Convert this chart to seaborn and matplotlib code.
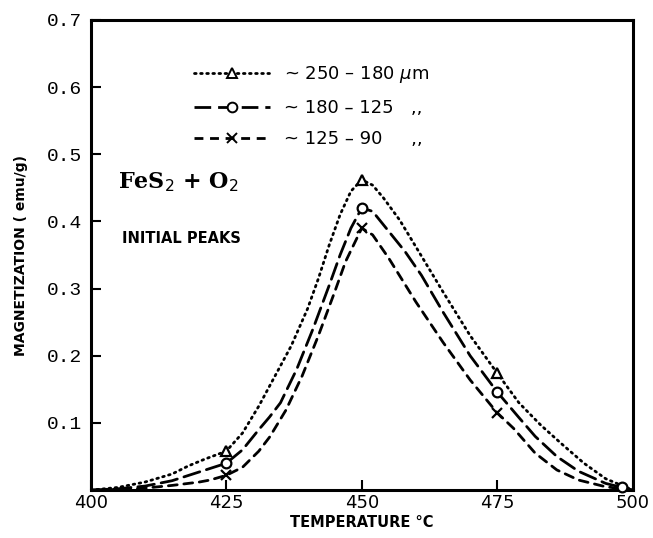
#!/usr/bin/env python3
"""FeS2 + O2 initial magnetization peaks vs temperature, three particle sizes."""
import matplotlib
matplotlib.use("Agg")
import matplotlib.pyplot as plt
from matplotlib.lines import Line2D
import numpy as np
import pandas as pd
import seaborn as sns

# === Data ===
size_labels = ["250-180", "180-125", "125-90"]

temp_a = [400, 405, 410, 415, 418, 421, 425, 428, 431, 434, 437, 440, 442, 444, 446,
          448, 450, 452, 454, 457, 460, 465, 470, 475, 479, 483, 487, 491, 495, 500]
mag_a = [0.0, 0.004, 0.012, 0.024, 0.036, 0.046, 0.058, 0.085, 0.125, 0.17, 0.215, 0.27,
         0.315, 0.365, 0.41, 0.445, 0.462, 0.454, 0.435, 0.402, 0.362, 0.295, 0.23, 0.174,
         0.13, 0.097, 0.068, 0.04, 0.017, 0.0]

temp_b = [400, 405, 410, 415, 420, 425, 428, 431, 433, 435, 438, 441, 444, 446, 448,
          450, 452, 455, 458, 461, 465, 470, 475, 479, 482, 486, 490, 495, 500]
mag_b = [0.0, 0.002, 0.006, 0.014, 0.027, 0.04, 0.06, 0.09, 0.109, 0.13, 0.18, 0.24,
         0.305, 0.35, 0.39, 0.42, 0.415, 0.385, 0.355, 0.32, 0.265, 0.20, 0.146, 0.108,
         0.08, 0.05, 0.028, 0.01, 0.0]

temp_c = [400, 405, 410, 415, 420, 422, 425, 428, 431, 433, 436, 439, 442, 445, 447,
          450, 452, 455, 460, 465, 470, 475, 478, 482, 486, 490, 495, 500]
mag_c = [0.0, 0.001, 0.003, 0.007, 0.012, 0.015, 0.022, 0.034, 0.058, 0.079, 0.119, 0.17,
         0.23, 0.295, 0.34, 0.39, 0.38, 0.345, 0.28, 0.22, 0.164, 0.115, 0.092, 0.055,
         0.03, 0.015, 0.005, 0.0]

# measured points carrying symbols
mark_temp_a = [425, 450, 475]
mark_mag_a = [0.058, 0.462, 0.174]
mark_temp_b = [425, 450, 475, 498]
mark_mag_b = [0.04, 0.42, 0.146, 0.004]
mark_temp_c = [425, 450, 475]
mark_mag_c = [0.022, 0.39, 0.115]

x_ticks = [400, 425, 450, 475, 500]
y_ticks = [0.1, 0.2, 0.3, 0.4, 0.5, 0.6, 0.7]

# === Style ===
sns.set_style("ticks")
plt.rcParams["font.family"] = ["DejaVu Sans"]
plt.rcParams.update({
    "text.color": "black",
    "axes.labelcolor": "black",
    "xtick.color": "black",
    "ytick.color": "black",
    "axes.edgecolor": "black",
})

df = pd.concat([
    pd.DataFrame({"temp": temp_a, "mag": mag_a, "size": size_labels[0]}),
    pd.DataFrame({"temp": temp_b, "mag": mag_b, "size": size_labels[1]}),
    pd.DataFrame({"temp": temp_c, "mag": mag_c, "size": size_labels[2]}),
], ignore_index=True)

dash_map = {size_labels[0]: (0.6, 1.6), size_labels[1]: (6, 2.5), size_labels[2]: (3.2, 2.4)}
marker_map = {size_labels[0]: "^", size_labels[1]: "o", size_labels[2]: "x"}

fig = plt.figure(figsize=(6.53, 5.38), dpi=100)
ax = fig.add_axes([0.139, 0.089, 0.830, 0.874])

sns.lineplot(data=df, x="temp", y="mag", style="size", dashes=dash_map,
             color="black", linewidth=2.0, legend=False, ax=ax, sort=False)
for line in ax.get_lines():
    line.set_dash_capstyle("round")

marks = [(mark_temp_a, mark_mag_a), (mark_temp_b, mark_mag_b), (mark_temp_c, mark_mag_c)]
for lab, (mx, my) in zip(size_labels, marks):
    ax.plot(mx, my, ls="none", marker=marker_map[lab], ms=7, mfc="white",
            mec="black", mew=1.6, zorder=4, clip_on=False)

ax.set_xlim(400, 500)
ax.set_ylim(0, 0.7)
ax.set_xticks(x_ticks)
ax.set_yticks(y_ticks)
ax.set_xticklabels([str(t) for t in x_ticks], fontsize=13)
ax.set_yticklabels([f"{v:.1f}" for v in y_ticks], fontsize=14,
                   family=["Liberation Mono", "DejaVu Sans Mono"])
ax.tick_params(direction="in", length=7, width=1.5)
ax.tick_params(axis="x", pad=3)
ax.tick_params(axis="y", pad=6)
for sp in ax.spines.values():
    sp.set_linewidth(2.2)
    sp.set_visible(True)

ax.set_xlabel("TEMPERATURE °C", fontsize=10.5, fontweight="bold", labelpad=2)
ax.set_ylabel("MAGNETIZATION ( emu/g)", fontsize=10, fontweight="bold", labelpad=14)

# annotations
ax.text(0.05, 0.655, "FeS$_2$ + O$_2$", transform=ax.transAxes, fontsize=16,
        fontweight="bold", family=["DejaVu Serif"], va="center")
ax.text(0.057, 0.535, "INITIAL PEAKS", transform=ax.transAxes, fontsize=10.5,
        fontweight="bold", va="center")

# legend
handles = [
    Line2D([], [], color="black", lw=2.0, dashes=dash_map[size_labels[0]],
           dash_capstyle="round", marker="^", ms=7, mfc="white", mew=1.4),
    Line2D([], [], color="black", lw=2.0, dashes=dash_map[size_labels[1]],
           marker="o", ms=7, mfc="white", mew=1.4),
    Line2D([], [], color="black", lw=2.0, dashes=dash_map[size_labels[2]],
           marker="x", ms=7, mew=1.4),
]
labels = ["~ 250 – 180 $\\mu$m", "~ 180 – 125   ,,", "~ 125 – 90     ,,"]
ax.legend(handles, labels, loc="upper left", bbox_to_anchor=(0.16, 0.94),
          frameon=False, fontsize=13, handlelength=4.2, handletextpad=0.8,
          labelspacing=0.75, numpoints=1)

fig.savefig("out.png", dpi=100)
